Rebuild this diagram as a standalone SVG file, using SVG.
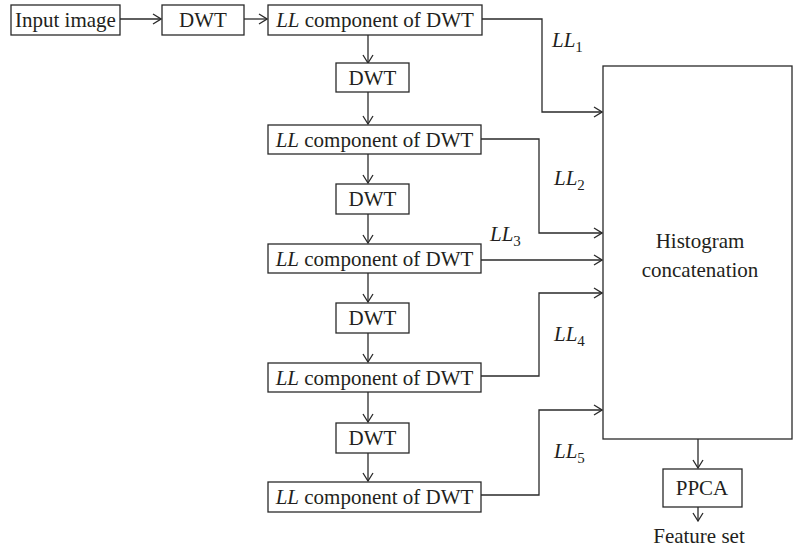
<svg xmlns="http://www.w3.org/2000/svg" width="793" height="550" viewBox="0 0 793 550" font-family="'Liberation Serif', 'DejaVu Serif', serif">
<style>
.box{fill:#fff;stroke:#2a2a2a;stroke-width:1.3}
.ln{fill:none;stroke:#2a2a2a;stroke-width:1.3}
text{font-family:'Liberation Serif','DejaVu Serif',serif;font-size:21px;fill:#231f20}
.c{text-anchor:middle}
.i{font-style:italic}
.s{font-size:15px}
</style>
<defs>
<marker id="a" markerWidth="10" markerHeight="12" refX="9" refY="6" orient="auto" markerUnits="userSpaceOnUse">
<path d="M1,1 L9,6 L1,11" fill="none" stroke="#2a2a2a" stroke-width="1.3"/>
</marker>
</defs>
<rect width="793" height="550" fill="#fff"/>
<g id="connectors">
<path class="ln" d="M120,19 H161" marker-end="url(#a)"/>
<path class="ln" d="M244,19 H267" marker-end="url(#a)"/>
<path class="ln" d="M368,35 V63" marker-end="url(#a)"/>
<path class="ln" d="M368,92 V124" marker-end="url(#a)"/>
<path class="ln" d="M368,154 V183" marker-end="url(#a)"/>
<path class="ln" d="M368,214 V243" marker-end="url(#a)"/>
<path class="ln" d="M368,273 V302" marker-end="url(#a)"/>
<path class="ln" d="M368,333 V362" marker-end="url(#a)"/>
<path class="ln" d="M368,392 V422" marker-end="url(#a)"/>
<path class="ln" d="M368,453 V481" marker-end="url(#a)"/>
<path class="ln" d="M482,19 H542 V112 H602" marker-end="url(#a)"/>
<path class="ln" d="M481,139 H539 V233 H602" marker-end="url(#a)"/>
<path class="ln" d="M481,260 H602" marker-end="url(#a)"/>
<path class="ln" d="M481,376 H539 V293 H602" marker-end="url(#a)"/>
<path class="ln" d="M481,495 H539 V410 H602" marker-end="url(#a)"/>
<path class="ln" d="M698,439 V468" marker-end="url(#a)"/>
<path class="ln" d="M698,507 V521" marker-end="url(#a)"/>
</g>
<g id="input"><rect class="box" x="11" y="5" width="109" height="30"/><text class="c" x="65.5" y="27">Input image</text></g>
<g id="dwt0"><rect class="box" x="162" y="5" width="82" height="30"/><text class="c" x="203" y="27">DWT</text></g>
<g id="ll1"><rect class="box" x="268" y="5" width="214" height="30"/><text class="c" x="375" y="27"><tspan class="i">LL</tspan> component of DWT</text></g>
<g id="dwt1"><rect class="box" x="336" y="63" width="73" height="29"/><text class="c" x="372.5" y="85">DWT</text></g>
<g id="ll2"><rect class="box" x="268" y="125" width="213" height="29"/><text class="c" x="374.5" y="147"><tspan class="i">LL</tspan> component of DWT</text></g>
<g id="dwt2"><rect class="box" x="336" y="184" width="73" height="30"/><text class="c" x="372.5" y="206">DWT</text></g>
<g id="ll3"><rect class="box" x="268" y="244" width="213" height="29"/><text class="c" x="374.5" y="266"><tspan class="i">LL</tspan> component of DWT</text></g>
<g id="dwt3"><rect class="box" x="336" y="303" width="73" height="30"/><text class="c" x="372.5" y="325">DWT</text></g>
<g id="ll4"><rect class="box" x="268" y="363" width="213" height="29"/><text class="c" x="374.5" y="385"><tspan class="i">LL</tspan> component of DWT</text></g>
<g id="dwt4"><rect class="box" x="336" y="423" width="73" height="30"/><text class="c" x="372.5" y="445">DWT</text></g>
<g id="ll5"><rect class="box" x="268" y="482" width="213" height="30"/><text class="c" x="374.5" y="504"><tspan class="i">LL</tspan> component of DWT</text></g>
<g id="hist"><rect class="box" x="603" y="66" width="189" height="373"/><text class="c" x="700" y="248">Histogram</text><text class="c" x="700" y="277">concatenation</text></g>
<g id="ppca"><rect class="box" x="663" y="469" width="79" height="38"/><text class="c" x="702" y="495">PPCA</text></g>
<g id="feature"><text class="c" x="699" y="543">Feature set</text></g>
<g id="labels">
<text x="552" y="47"><tspan class="i">LL</tspan><tspan class="s" dy="5">1</tspan></text>
<text x="554" y="185"><tspan class="i">LL</tspan><tspan class="s" dy="5">2</tspan></text>
<text x="490" y="241"><tspan class="i">LL</tspan><tspan class="s" dy="5">3</tspan></text>
<text x="554" y="341"><tspan class="i">LL</tspan><tspan class="s" dy="5">4</tspan></text>
<text x="554" y="458"><tspan class="i">LL</tspan><tspan class="s" dy="5">5</tspan></text>
</g>
</svg>
